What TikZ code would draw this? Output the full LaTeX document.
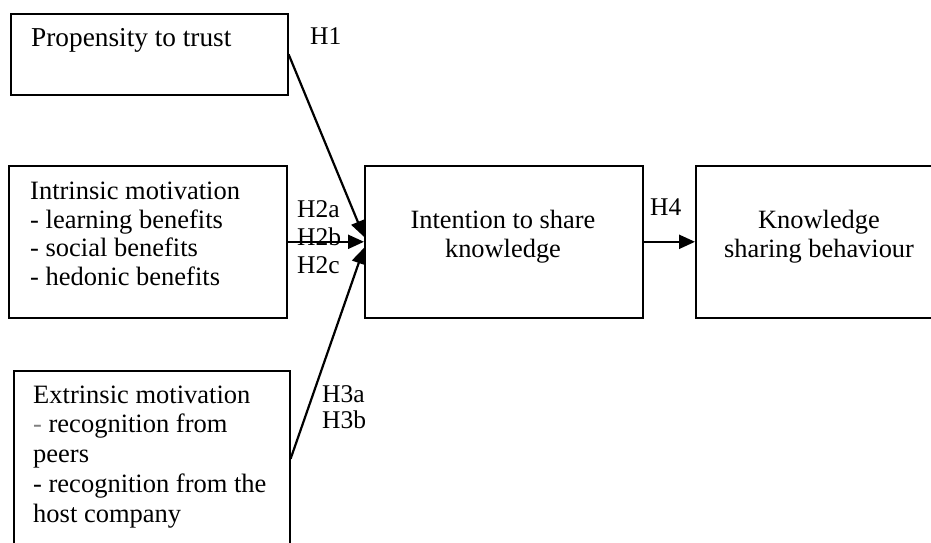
\documentclass[tikz,border=0pt]{standalone}
\usepackage{fontspec}
\setmainfont{Liberation Serif}
\usetikzlibrary{arrows.meta}
\begin{document}
\begin{tikzpicture}[x=1pt,y=-1pt,
  box/.style={draw,line width=1.6pt,rectangle,inner sep=0pt,anchor=north west},
  txt/.style={inner sep=0pt,align=left,anchor=base west},
  ctxt/.style={font=\fontsize{26.4}{29}\selectfont,inner sep=0pt,align=center,anchor=base},
  lbl/.style={inner sep=0pt,align=left,anchor=base west},
  arr/.style={line width=2.2pt,-{Triangle[length=16pt,width=14pt]}}]
\clip (0,0) rectangle (931,543);
\fill[white] (0,0) rectangle (931,543);
% boxes
\node[box,minimum width=277pt,minimum height=81pt] (trust) at (10,13) {};
\node[box,minimum width=278pt,minimum height=152pt] (intr) at (8,165) {};
\node[box,minimum width=276pt,minimum height=190pt] (extr) at (13,370) {};
\node[box,minimum width=278pt,minimum height=152pt] (inten) at (364,165) {};
\node[box,minimum width=300pt,minimum height=152pt] (behav) at (695,165) {};
% texts (base = baseline of last line)
\node[txt,font=\fontsize{27.3}{30}\selectfont] (ttrust) at (31,47) {Propensity to trust};
\node[txt,font=\fontsize{26.5}{28.5}\selectfont] (tintr) at (30,285) {Intrinsic motivation\\- learning benefits\\- social benefits\\- hedonic benefits};
\node[txt,font=\fontsize{26.5}{29.7}\selectfont] (textr) at (33,522) {Extrinsic motivation\\{\color{gray}-} recognition from\\peers\\- recognition from the\\host company};
\node[ctxt] (tinten) at (503,257) {Intention to share\\knowledge};
\node[ctxt] (tbehav) at (819,257) {Knowledge\\sharing behaviour};
% connectors
\draw[arr] (trust.east) -- ([yshift=5pt]inten.west);
\draw[arr] (intr.east) -- (inten.west);
\draw[arr] ([yshift=7pt]extr.east) -- ([yshift=-6pt]inten.west);
\draw[arr] (inten.east) -- (behav.west);
% labels
\node[lbl,font=\fontsize{25.5}{28.5}\selectfont] (h1) at (310,45) {H1};
\node[lbl,font=\fontsize{25.5}{28}\selectfont] (h2) at (297,273) {H2a\\H2b\\H2c};
\node[lbl,font=\fontsize{25.5}{26}\selectfont] (h3) at (322,428) {H3a\\H3b};
\node[lbl,font=\fontsize{25.5}{28.5}\selectfont] (h4) at (650,215) {H4};
\end{tikzpicture}
\end{document}
